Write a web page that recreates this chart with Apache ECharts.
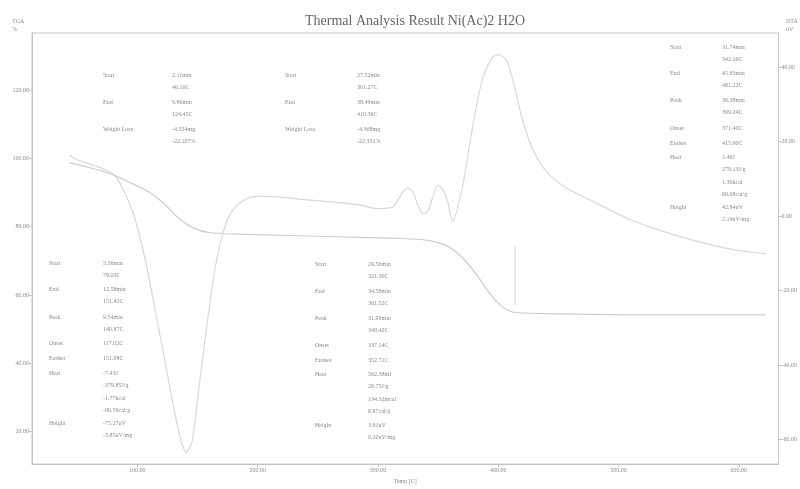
<!DOCTYPE html>
<html>
<head>
<meta charset="utf-8">
<script src="https://cdn.jsdelivr.net/npm/echarts@6/dist/echarts.min.js"></script>
<style>
html,body{margin:0;padding:0;background:#fff;}
#chart{width:800px;height:489px;}
</style>
</head>
<body>
<div id="chart"></div>
<script>
// ---- data ----
const titleText = 'Thermal Analysis Result Ni(Ac)2 H2O';
const xTicks = [100, 200, 300, 400, 500, 600];
const tgTicks = [20, 40, 60, 80, 100, 120];
const dtaTicks = [-60, -40, -20, 0, 20, 40];

const tgTemp = [43.8, 60.3, 76.9, 93.4, 109.9, 122.3, 134.7, 147.1, 159.5, 184.3, 217.4, 250.4, 283.5, 316.5, 341.3, 357.9, 370.2, 382.6, 390.9, 399.2, 407.4, 415.7, 448.8, 523.1, 622.3];
const tgValue = [98.7, 97.3, 95.6, 93.0, 90.1, 86.7, 82.4, 79.5, 78.3, 77.8, 77.5, 77.2, 76.9, 76.6, 76.0, 74.3, 70.9, 65.7, 61.4, 57.9, 55.6, 54.8, 54.5, 54.2, 54.2];

const dtaTemp = [43.8, 52.1, 68.6, 81.0, 89.3, 97.5, 105.8, 114.0, 122.3, 130.6, 136.4, 140.5, 145.5, 151.2, 157.9, 163.6, 169.4, 176.0, 184.3, 192.6, 200.8, 217.4, 233.9, 258.7, 283.5, 300.0, 312.4, 320.7, 324.8, 329.0, 333.1, 337.2, 341.3, 345.5, 349.6, 353.7, 357.9, 362.0, 370.2, 378.5, 386.8, 395.0, 400.8, 407.4, 414.0, 419.8, 428.1, 440.5, 457.0, 481.8, 506.6, 531.4, 564.5, 597.5, 622.3];
const dtaValue = [16.3, 14.9, 13.1, 11.0, 6.5, -0.1, -10.7, -23.9, -38.0, -52.0, -60.5, -63.5, -60.5, -46.0, -29.1, -15.9, -6.7, -0.1, 3.3, 4.9, 5.4, 5.2, 4.6, 3.9, 3.1, 2.0, 2.5, 6.5, 7.6, 6.5, 3.1, 0.7, 1.2, 5.0, 8.3, 7.2, 4.0, -1.4, 7.8, 23.6, 36.8, 42.6, 43.4, 41.6, 34.2, 26.3, 18.4, 11.8, 7.5, 3.5, -0.5, -3.5, -6.7, -9.1, -10.1];

const markerTemp = [414.0, 414.0];
const markerValue = [-8.0, -23.9];

// annotation blocks
const blockA = [['Start', ['2.11min', '46.10C']], ['End', ['9.86min', '124.45C']], ['Weight Loss', ['-4.324mg', '-22.107%']]];
const blockB = [['Start', ['27.52min', '301.27C']], ['End', ['38.49min', '410.36C']], ['Weight Loss', ['-4.368mg', '-22.331%']]];
const blockC = [['Start', ['31.74min', '342.16C']], ['End', ['45.63min', '481.22C']], ['Peak', ['36.38min', '399.24C']], ['Onset', ['371.40C']], ['Endset', ['415.90C']], ['Heat', ['5.46J', '279.13J/g', '1.30kcal', '66.68cal/g']], ['Height', ['42.84uV', '2.19uV/mg']]];
const blockD = [['Start', ['5.36min', '79.03C']], ['End', ['12.58min', '151.42C']], ['Peak', ['9.54min', '140.87C']], ['Onset', ['117.02C']], ['Endset', ['151.08C']], ['Heat', ['-7.43J', '-379.85J/g', '-1.77kcal', '-90.76cal/g']], ['Height', ['-75.27uV', '-3.85uV/mg']]];
const blockE = [['Start', ['29.56min', '321.30C']], ['End', ['34.58min', '361.52C']], ['Peak', ['31.99min', '349.42C']], ['Onset', ['337.14C']], ['Endset', ['352.71C']], ['Heat', ['562.38mJ', '28.75J/g', '134.32mcal', '6.87cal/g']], ['Height', ['3.91uV', '0.20uV/mg']]];

// ---- layout helpers ----
const TXT = '#8a8a8a';
const FONT = '"Liberation Serif", "DejaVu Serif", serif';
function blockGraphics(block, lx, vx, ys, lineH) {
  const out = [];
  block.forEach((row, i) => {
    const y = ys[i];
    out.push({type: 'text', left: lx, top: y, style: {text: row[0], fill: TXT, font: '6px ' + FONT}});
    row[1].forEach((v, j) => {
      out.push({type: 'text', left: vx, top: y + j * lineH, style: {text: v, fill: TXT, font: '6px ' + FONT}});
    });
  });
  return out;
}

const graphics = [].concat(
  blockGraphics(blockA, 103, 172, [72, 99, 126], 12),
  blockGraphics(blockB, 285, 357, [72, 99, 126], 12),
  blockGraphics(blockC, 670, 722, [44, 70, 97, 125, 140, 154, 204], 12.5),
  blockGraphics(blockD, 49, 103, [260, 286, 314, 340, 355, 370, 420], 12.5),
  blockGraphics(blockE, 315, 368, [261, 288, 315, 342, 357, 371, 422], 12.5),
  [
    {type: 'text', left: 12, top: 17, style: {text: 'TGA\n%', fill: TXT, font: '6px ' + FONT, lineHeight: 8, align: 'center'}},
    {type: 'text', left: 786, top: 17, style: {text: 'DTA\nuV', fill: TXT, font: '6px ' + FONT, lineHeight: 8, align: 'center'}}
  ]
);

const chart = echarts.init(document.getElementById('chart'), null, {renderer: 'canvas'});
const axisColor = '#c4c4c4';
const option = {
  backgroundColor: '#fff',
  animation: false,
  title: {
    text: titleText, left: 410, top: 9, textAlign: 'center',
    textStyle: {fontFamily: FONT, fontSize: 14, fontWeight: 'normal', color: '#666'}
  },
  grid: {left: 32, right: 17, top: 33, bottom: 17, show: true, borderColor: axisColor, borderWidth: 1, containLabel: false},
  xAxis: {
    type: 'value', min: 12.4, max: 633,
    name: 'Temp [C]', nameLocation: 'middle', nameGap: 11,
    nameTextStyle: {fontFamily: FONT, fontSize: 6, color: TXT},
    axisLine: {onZero: false, lineStyle: {color: axisColor}},
    axisTick: {show: true, length: 3, lineStyle: {color: axisColor}, customValues: xTicks},
    axisLabel: {customValues: xTicks, formatter: v => v.toFixed(2), fontFamily: FONT, fontSize: 6, color: TXT, margin: 3},
    splitLine: {show: false}
  },
  yAxis: [
    {
      type: 'value', position: 'left', min: 10.5, max: 136.7,
      axisLine: {show: true, onZero: false, lineStyle: {color: axisColor}},
      axisTick: {show: true, length: 3, inside: false, lineStyle: {color: axisColor}, customValues: tgTicks},
      axisLabel: {customValues: tgTicks, formatter: v => v.toFixed(2), fontFamily: FONT, fontSize: 6, color: TXT, margin: 3},
      splitLine: {show: false}
    },
    {
      type: 'value', position: 'right', min: -66.6, max: 49.2,
      axisLine: {show: true, onZero: false, lineStyle: {color: axisColor}},
      axisTick: {show: true, length: 3, lineStyle: {color: axisColor}, customValues: dtaTicks},
      axisLabel: {customValues: dtaTicks, formatter: v => v.toFixed(2), fontFamily: FONT, fontSize: 6, color: TXT, margin: 3},
      splitLine: {show: false}
    }
  ],
  series: [
    {
      type: 'line', name: 'TGA', yAxisIndex: 0, smooth: 0.3, showSymbol: false,
      lineStyle: {color: '#cdcdcd', width: 1.2},
      data: tgTemp.map((t, i) => [t, tgValue[i]])
    },
    {
      type: 'line', name: 'DTA', yAxisIndex: 1, smooth: 0.25, showSymbol: false,
      lineStyle: {color: '#d8d8d8', width: 1.2},
      data: dtaTemp.map((t, i) => [t, dtaValue[i]])
    },
    {
      type: 'line', name: 'marker', yAxisIndex: 1, showSymbol: false,
      lineStyle: {color: '#d0d0d0', width: 1},
      data: markerTemp.map((t, i) => [t, markerValue[i]])
    }
  ],
  graphic: graphics
};
chart.setOption(option);
</script>
</body>
</html>
